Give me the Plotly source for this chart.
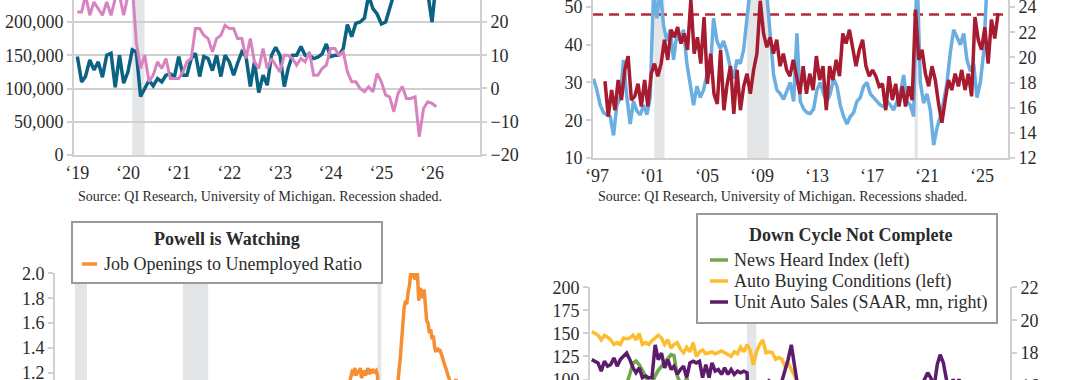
import pandas as pd
import plotly.graph_objects as go

# ====================== DATA ======================
# --- Top-left panel: monthly, Jan 2019 .. Feb 2026 ---
tl_teal_k = [148, 110, 118, 143, 128, 140, 117, 150, 153, 102, 150, 108, 125, 158,
             155, 88, 100, 112, 104, 115, 110, 120, 122, 118, 148, 120, 120, 145,
             153, 118, 148, 145, 127, 150, 118, 150, 140, 120, 138, 155, 148, 103,
             140, 94, 120, 105, 150, 162, 150, 103, 130, 150, 150, 163, 150, 150,
             145, 147, 152, 167, 148, 150, 150, 160, 196, 178, 198, 200, 206, 240,
             220, 212, 197, 200, 220, 245, 262, 275, 258, 270, 285, 265, 252, 244, 200, 262]
tl_pink = [23, 23, 28, 22, 26, 24, 22, 26, 22, 27, 28, 22, 28, 31,
           14, 6, 10, 2, 4, 8, 6, 9, 3, 3, 3, 5, 8, 9,
           18, 18, 16, 15, 11, 15, 16, 19, 18, 18, 15, 15, 9, 15,
           8, 6, 12, 6, 9, 7, 5, 10, 10, 9, 7, 9, 8, 11,
           4, 4, 6, 7, 12, 12, 10, 11, 5, 2, 2, 0, -1, 0.5,
           -1, 4.5, 2, -2, -2.5, -7, -1.5, 0.6, -3, -3, -2.5, -14.5, -6, -4, -4.5, -5.5]
tl_years = ["2019", "2020", "2021", "2022", "2023", "2024", "2025", "2026"]
tl_ticktext = ["\u201819", "\u201820", "\u201821", "\u201822", "\u201823", "\u201824", "\u201825", "\u201826"]
tl_left_ticks = [0, 50000, 100000, 150000, 200000]
tl_right_ticks = [-20, -10, 0, 10, 20]

# --- Top-right panel: 1997 .. early 2026 ---
tr_blue = [31, 28, 24, 22, 21.4, 21, 16, 24, 26, 36, 26, 19, 25, 22.5, 21.4, 24, 21.5, 26,
           54, 47, 55, 45, 41, 44, 36, 43, 41, 44, 35, 30, 24, 29, 26, 28, 32, 33,
           47, 41, 39, 41, 38, 34, 31, 36, 35, 38.6, 48, 55, 56, 54, 55, 56, 53, 42,
           32, 28, 27, 25.5, 28, 30, 25, 43, 25, 23, 22, 21.8, 23, 28, 30, 27, 25, 27,
           31, 29, 24, 21, 19, 21, 22, 25, 26, 29, 30, 27, 26, 25, 24, 23.6, 25, 24,
           22.7, 25, 27, 32, 25, 24, 21, 60, 30, 24.5, 27, 22.7, 13.4, 18, 21, 25, 30,
           38, 44, 42, 40, 43, 36, 33, 35, 26, 30, 38, 56, 58, 57, 60]
tr_red = [18.1, 15.3, 17.4, 15.8, 18.2, 16.6, 19, 20.1, 16.6, 16.9, 17.9, 16.1, 18.2, 16.1,
          18.7, 19.5, 18.5, 19.5, 21.4, 19.8, 22.2, 21.6, 22.4, 21.1, 21.9, 20.6, 24.6,
          20.3, 21.6, 19.5, 23.2, 17.9, 20.3, 17.1, 16.3, 20.6, 15.8, 17.9, 19.3, 15.5,
          19, 15.8, 17.7, 18.7, 17.1, 19, 20.3, 24.5, 21.9, 20.8, 21.6, 20.3, 21.4, 19.3,
          20.3, 19, 18.5, 19.8, 18.5, 17.1, 19.3, 17.1, 18.7, 17.4, 20.1, 18.2, 19.3,
          15.8, 19.3, 18.2, 19.8, 18.5, 21.9, 21.1, 22.2, 20.6, 19.3, 20.6, 21.4, 19.3,
          18.5, 19, 18.5, 17.7, 17.9, 15.8, 18.5, 16.6, 17.9, 16.1, 17.7, 16.1, 17.7,
          16.6, 23.8, 19.8, 20.6, 18.7, 17.7, 19.3, 18.2, 16.3, 14.8, 16.6, 18.2, 17.4,
          18.7, 17.7, 19, 17.4, 18.7, 16.9, 23.2, 21.4, 20.6, 22.4, 19.5, 23, 21.5, 23.5]
tr_blue_span = ("1996-10-01", "2026-02-01")
tr_red_span = ("1997-08-01", "2026-03-01")
tr_threshold = 23.4
tr_years = ["1997", "2001", "2005", "2009", "2013", "2017", "2021", "2025"]
tr_ticktext = ["\u201897", "\u201801", "\u201805", "\u201809", "\u201813", "\u201817", "\u201821", "\u201825"]
tr_left_ticks = [10, 20, 30, 40, 50]
tr_right_ticks = [12, 14, 16, 18, 20, 22, 24]

# --- Bottom-left panel: Job openings / unemployed, monthly from Dec 2000 ---
bl_ratio = [0.92,
    0.88, 0.85, 0.83, 0.78, 0.74, 0.72, 0.68, 0.62, 0.58, 0.52, 0.48, 0.47,
    0.46, 0.45, 0.44, 0.42, 0.43, 0.41, 0.40, 0.41, 0.40, 0.39, 0.40, 0.38,
    0.38, 0.37, 0.37, 0.36, 0.36, 0.35, 0.36, 0.37, 0.38, 0.39, 0.40, 0.42,
    0.42, 0.43, 0.44, 0.45, 0.46, 0.47, 0.47, 0.48, 0.49, 0.50, 0.51, 0.52,
    0.52, 0.54, 0.55, 0.56, 0.57, 0.58, 0.60, 0.62, 0.61, 0.63, 0.64, 0.66,
    0.67, 0.68, 0.69, 0.70, 0.70, 0.69, 0.68, 0.70, 0.71, 0.72, 0.71, 0.70,
    0.70, 0.69, 0.68, 0.67, 0.67, 0.66, 0.65, 0.62, 0.60, 0.60, 0.58, 0.55,
    0.54, 0.52, 0.50, 0.48, 0.45, 0.43, 0.40, 0.36, 0.33, 0.30, 0.27, 0.24,
    0.22, 0.20, 0.18, 0.17, 0.16, 0.16, 0.16, 0.15, 0.15, 0.16, 0.16, 0.17,
    0.18, 0.18, 0.19, 0.20, 0.21, 0.20, 0.20, 0.20, 0.21, 0.21, 0.21, 0.22,
    0.22, 0.23, 0.23, 0.24, 0.24, 0.25, 0.26, 0.25, 0.26, 0.26, 0.27, 0.28,
    0.29, 0.30, 0.30, 0.31, 0.31, 0.31, 0.32, 0.32, 0.33, 0.32, 0.33, 0.33,
    0.34, 0.35, 0.35, 0.36, 0.36, 0.36, 0.37, 0.38, 0.39, 0.39, 0.40, 0.41,
    0.42, 0.44, 0.45, 0.47, 0.49, 0.51, 0.52, 0.54, 0.55, 0.57, 0.57, 0.59,
    0.61, 0.63, 0.64, 0.66, 0.68, 0.67, 0.69, 0.70, 0.69, 0.71, 0.72, 0.73,
    0.74, 0.76, 0.77, 0.76, 0.77, 0.78, 0.78, 0.77, 0.78, 0.79, 0.80, 0.81,
    0.83, 0.84, 0.85, 0.87, 0.88, 0.91, 0.90, 0.92, 0.95, 0.97, 0.98, 1.00,
    1.02, 1.04, 1.06, 1.08, 1.12, 1.16, 1.21, 1.20, 1.24, 1.18, 1.22, 1.20,
    1.24, 1.16, 1.20, 1.22, 1.18, 1.22, 1.24, 1.19, 1.23, 1.20, 1.22, 1.21,
    1.22, 1.18, 0.90, 0.25, 0.25, 0.35, 0.37, 0.45, 0.50, 0.52, 0.58, 0.62,
    0.65, 0.72, 0.85, 1.00, 1.12, 1.20, 1.30, 1.45, 1.55, 1.72, 1.78, 1.75,
    1.85, 1.90, 2.00, 1.97, 2.00, 1.95, 1.98, 2.00, 1.78, 1.88, 1.85, 1.80,
    1.87, 1.75, 1.62, 1.60, 1.52, 1.55, 1.47, 1.50, 1.40, 1.37, 1.40, 1.38,
    1.38, 1.35, 1.30, 1.28, 1.25, 1.20, 1.18, 1.15, 1.12, 1.14, 1.11, 1.13,
    1.15, 1.10, 1.08, 1.05, 1.13, 1.04, 1.03, 1.00]
bl_start = "2000-12-01"
bl_ticks = [1.2, 1.4, 1.6, 1.8, 2.0]

# --- Bottom-right panel: monthly from Jan 2016 ---
br_news = [85, 88, 84, 90, 86, 88, 85, 92, 89, 94, 96, 95,
           106, 118, 120, 116, 110, 103, 97, 95, 104, 110, 114, 118,
           122, 127, 126, 104, 96, 96, 101, 94, 90, 93, 88, 91,
           86, 88, 82, 85, 87, 83, 85, 88, 84, 87, 89, 85,
           86, 84, 55, 38, 45, 55, 60, 62, 66, 62, 64, 67,
           72, 75, 82, 90, 86, 78, 70, 62, 60, 58, 55, 57,
           56, 54, 50, 52, 48, 45, 47, 50, 52, 54, 55, 57,
           58, 60, 57, 59, 62, 64, 66, 63, 61, 60, 62, 65,
           66, 64, 67, 65, 63, 62, 64, 66, 68, 70, 72, 70,
           62, 58, 52, 48, 55, 57, 59, 56, 58, 55, 57, 56]
br_buying = [152, 150, 148, 143, 148, 146, 143, 138, 140, 138, 145, 144,
             145, 148, 143, 150, 138, 140, 138, 142, 145, 148, 145, 138,
             143, 134, 138, 140, 133, 129, 135, 130, 140, 125, 130, 132,
             128, 129, 130, 128, 130, 131, 129, 127, 125, 130, 128, 135,
             130, 138, 132, 116, 130, 138, 143, 129, 130, 129, 122, 124,
             122, 114, 118, 111, 103, 95, 90, 84, 80, 76, 72, 70,
             68, 62, 58, 55, 52, 50, 53, 56, 60, 62, 65, 64,
             66, 68, 70, 72, 75, 73, 78, 80, 82, 80, 84, 86,
             85, 88, 90, 87, 89, 92, 90, 93, 91, 94, 96, 92,
             90, 88, 85, 80, 78, 82, 84, 80, 83, 81, 79, 82]
br_sales = [17.6, 17.5, 17.4, 16.9, 17.5, 17.2, 17.3, 17.7, 17.2, 17.6, 17.8, 18.0,
            17.6, 17.1, 16.8, 17.1, 16.5, 16.6, 16.5, 16.5, 18.5, 17.6, 18.0, 17.1,
            17.6, 17.0, 17.2, 16.7, 17.0, 17.2, 16.5, 17.4, 17.5, 17.4, 17.5, 16.5,
            17.3, 16.5, 17.4, 16.9, 17.0, 16.7, 17.1, 16.7, 17.0, 16.7, 16.9, 16.8,
            16.9, 16.8, 11.4, 8.7, 12.2, 13.0, 14.5, 15.2, 16.3, 16.2, 15.7, 16.2,
            16.3, 16.9, 17.6, 18.5, 17.3, 15.4, 14.6, 13.1, 12.2, 13.0, 13.0, 12.4,
            15.0, 14.0, 13.3, 14.3, 12.7, 13.0, 13.3, 13.2, 13.5, 14.9, 14.1, 13.4,
            15.7, 14.9, 14.8, 15.9, 15.0, 15.7, 15.7, 15.0, 15.7, 15.5, 15.3, 15.8,
            15.0, 15.8, 15.5, 15.8, 15.9, 15.3, 15.8, 15.1, 15.9, 16.4, 16.8, 16.5,
            15.9, 17.3, 17.9, 17.4, 15.8, 15.3, 16.4, 16.1, 16.4, 15.3, 15.6, 15.9]
br_start = "2016-01-01"
br_left_ticks = [100, 125, 150, 175, 200]
br_right_ticks = [16, 18, 20, 22]

rec_short = [("2020-02-01", "2020-04-30")]
rec_long = [("2001-03-01", "2001-11-30"), ("2007-12-01", "2009-06-30"), ("2020-02-01", "2020-04-30")]

# ====================== STYLE ======================
W, H = 1080, 380
FONT = "Liberation Serif"
TXT = "#2b2b2b"
AX = "#d0d0d0"
SHADE = "#e4e5e7"
C_TEAL, C_PINK = "#0c6282", "#d883bf"
C_BLUE, C_RED = "#6aaee2", "#a61b30"
C_ORANGE = "#f68e32"
C_GREEN, C_YELLOW, C_PURPLE = "#6fa84a", "#fdbd2e", "#5c1b6b"


def fx(p):
    return p / W


def fy(p):
    return 1 - p / H


tick_font = dict(family=FONT, size=18, color=TXT)
axis_common = dict(showline=True, linecolor=AX, linewidth=2, ticks="outside", ticklen=5,
                   tickcolor=AX, tickwidth=2, tickfont=tick_font, zeroline=False,
                   showgrid=False, fixedrange=True, automargin=False,
                   ticklabeloverflow="allow")

fig = go.Figure()

# ---- top-left ----
tl_dates = pd.date_range("2019-01-01", periods=len(tl_teal_k), freq="MS")
fig.add_trace(go.Scatter(x=tl_dates, y=[v * 1000 for v in tl_teal_k], mode="lines",
                         line=dict(color=C_TEAL, width=3.5), xaxis="x", yaxis="y"))
fig.add_trace(go.Scatter(x=tl_dates, y=tl_pink, mode="lines",
                         line=dict(color=C_PINK, width=3), xaxis="x", yaxis="y2"))

# ---- top-right ----
blue_dates = pd.date_range(tr_blue_span[0], tr_blue_span[1], periods=len(tr_blue))
red_dates = pd.date_range(tr_red_span[0], tr_red_span[1], periods=len(tr_red))
fig.add_trace(go.Scatter(x=blue_dates, y=tr_blue, mode="lines",
                         line=dict(color=C_BLUE, width=3.5), xaxis="x2", yaxis="y3"))
fig.add_trace(go.Scatter(x=red_dates, y=tr_red, mode="lines",
                         line=dict(color=C_RED, width=3.5), xaxis="x2", yaxis="y4"))

# ---- bottom-left ----
bl_dates = pd.date_range(bl_start, periods=len(bl_ratio), freq="MS")
fig.add_trace(go.Scatter(x=bl_dates, y=bl_ratio, mode="lines",
                         line=dict(color=C_ORANGE, width=3.5), xaxis="x3", yaxis="y5"))

# ---- bottom-right ----
br_dates = pd.date_range(br_start, periods=len(br_buying), freq="MS")
fig.add_trace(go.Scatter(x=br_dates, y=br_buying, mode="lines",
                         line=dict(color=C_YELLOW, width=3.5), xaxis="x4", yaxis="y6"))
fig.add_trace(go.Scatter(x=br_dates[:len(br_news)], y=br_news, mode="lines",
                         line=dict(color=C_GREEN, width=3.5), xaxis="x4", yaxis="y6"))
fig.add_trace(go.Scatter(x=br_dates[:len(br_sales)], y=br_sales, mode="lines",
                         line=dict(color=C_PURPLE, width=3.5), xaxis="x4", yaxis="y7"))

shapes = []
for a, b in rec_short:
    shapes.append(dict(type="rect", xref="x", yref="y domain", x0=a, x1=b, y0=0, y1=1,
                       fillcolor=SHADE, line=dict(width=0), layer="below"))
    shapes.append(dict(type="rect", xref="x4", yref="y6 domain", x0=a, x1=b, y0=0, y1=1,
                       fillcolor=SHADE, line=dict(width=0), layer="below"))
for a, b in rec_long:
    shapes.append(dict(type="rect", xref="x2", yref="y3 domain", x0=a, x1=b, y0=0, y1=1,
                       fillcolor=SHADE, line=dict(width=0), layer="below"))
    shapes.append(dict(type="rect", xref="x3", yref="y5 domain", x0=a, x1=b, y0=0, y1=1,
                       fillcolor=SHADE, line=dict(width=0), layer="below"))

# dashed threshold line (top-right)
shapes.append(dict(type="line", xref="x2", yref="y4", x0="1996-09-17", x1="2026-08-20",
                   y0=tr_threshold, y1=tr_threshold,
                   line=dict(color="#b8283d", width=2.5, dash="10px,6px"), layer="below"))

# legend boxes
shapes.append(dict(type="rect", xref="paper", yref="paper", x0=fx(72), x1=fx(382),
                   y0=fy(283), y1=fy(222), fillcolor="white",
                   line=dict(color="#9a9a9a", width=2), layer="above"))
shapes.append(dict(type="line", xref="paper", yref="paper", x0=fx(82), x1=fx(97),
                   y0=fy(264), y1=fy(264), line=dict(color=C_ORANGE, width=3.5), layer="above"))
shapes.append(dict(type="rect", xref="paper", yref="paper", x0=fx(697), x1=fx(997),
                   y0=fy(323), y1=fy(214), fillcolor="white",
                   line=dict(color="#9a9a9a", width=2), layer="above"))
for yy, col in [(260, C_GREEN), (281, C_YELLOW), (302, C_PURPLE)]:
    shapes.append(dict(type="line", xref="paper", yref="paper", x0=fx(710), x1=fx(728),
                       y0=fy(yy), y1=fy(yy), line=dict(color=col, width=3.5), layer="above"))

ann = []


def text(x, y, s, size=18, anchor="left", bold=False):
    ann.append(dict(xref="paper", yref="paper", x=fx(x), y=fy(y), text=("<b>%s</b>" % s) if bold else s,
                    showarrow=False, xanchor=anchor, yanchor="middle",
                    font=dict(family=FONT, size=size, color=TXT)))


text(260, 196, "Source: QI Research, University of Michigan. Recession shaded.", size=14, anchor="center")
text(782, 196, "Source: QI Research, University of Michigan. Recessions shaded.", size=14, anchor="center")
text(227, 239, "Powell is Watching", size=18, anchor="center", bold=True)
text(102, 264, "Job Openings to Unemployed Ratio", size=18)
text(850, 235, "Down Cycle Not Complete", size=18, anchor="center", bold=True)
text(732, 260, "News Heard Index (left)", size=18)
text(732, 281, "Auto Buying Conditions (left)", size=18)
text(732, 302, "Unit Auto Sales (SAAR, mn, right)", size=18)
# right-axis label of bottom-right panel that falls just below the cropped frame
text(1019, 386, str(br_right_ticks[0]), size=18)

fig.update_layout(
    width=W, height=H, autosize=False,
    margin=dict(l=0, r=0, t=0, b=0, pad=0),
    paper_bgcolor="white", plot_bgcolor="rgba(0,0,0,0)",
    showlegend=False,
    shapes=shapes, annotations=ann,
    # top-left
    xaxis=dict(axis_common, domain=[fx(74), fx(480)], anchor="y",
               range=["2018-12-08", "2026-12-13"], ticks="",
               tickvals=[y + "-01-01" for y in tl_years], ticktext=tl_ticktext),
    yaxis=dict(axis_common, domain=[fy(155), 1], anchor="x", range=[0, 233090],
               tickvals=tl_left_ticks, tickformat=",d", showgrid=True, gridcolor=AX, gridwidth=2),
    yaxis2=dict(axis_common, overlaying="y", side="right", anchor="x", range=[-20, 26.6],
                tickvals=tl_right_ticks),
    # top-right
    xaxis2=dict(axis_common, domain=[fx(593), fx(1008)], anchor="y3",
                range=["1996-09-17", "2026-11-20"], ticks="",
                tickvals=[y + "-01-01" for y in tr_years], ticktext=tr_ticktext),
    yaxis3=dict(axis_common, domain=[fy(158), 1], anchor="x2", range=[10, 51.85],
                tickvals=tr_left_ticks),
    yaxis4=dict(axis_common, overlaying="y3", side="right", anchor="x2", range=[12, 24.56],
                tickvals=tr_right_ticks),
    # bottom-left
    xaxis3=dict(axis_common, domain=[fx(55), fx(480)], anchor="y5",
                range=["1999-12-01", "2026-07-01"], showline=False, ticks="",
                showticklabels=False),
    yaxis5=dict(axis_common, domain=[0, fy(273)], anchor="x3", range=[1.144, 2.002],
                tickvals=bl_ticks, tickformat=".1f"),
    # bottom-right
    xaxis4=dict(axis_common, domain=[fx(590), fx(1010)], anchor="y6",
                range=["2015-12-15", "2027-01-01"], showline=False, ticks="",
                showticklabels=False),
    yaxis6=dict(axis_common, domain=[0, fy(287)], anchor="x4", range=[99.5, 200.3],
                tickvals=br_left_ticks),
    yaxis7=dict(axis_common, overlaying="y6", side="right", anchor="x4", range=[16.36, 22.02],
                tickvals=br_right_ticks),
)

fig.write_html("out.html", config={"responsive": False, "displayModeBar": False},
               post_script="document.body.style.margin='0';document.body.style.padding='0';"
                           "document.body.style.overflow='hidden';")
